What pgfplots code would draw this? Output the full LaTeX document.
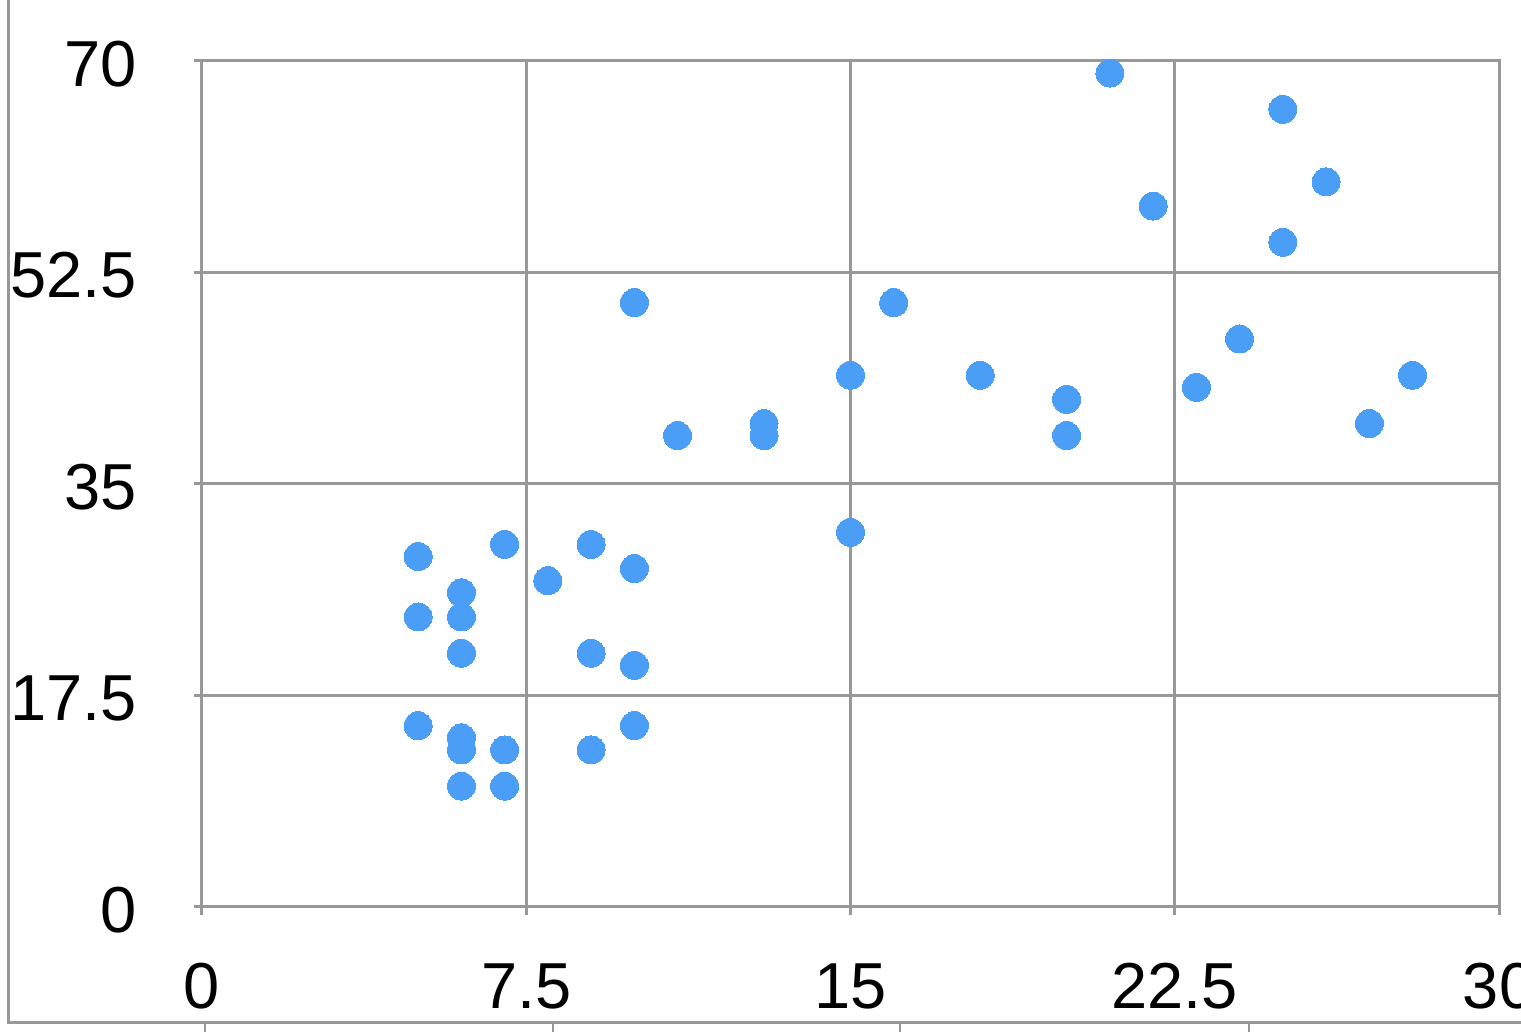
\documentclass[border=0pt]{standalone}
\usepackage{pgfplots}
\pgfplotsset{compat=1.18}
\usepackage{fontspec}
\setmainfont{Liberation Sans}
\definecolor{gridgray}{RGB}{152,152,152}
\definecolor{dotblue}{RGB}{74,158,245}
\begin{document}
\begin{tikzpicture}
\useasboundingbox (-101pt,-62.5pt) rectangle (659.5pt,453.5pt);
\fill[white] (-101pt,-62.5pt) rectangle (659.5pt,453.5pt);
\begin{axis}[
  at={(0,0)}, anchor=south west,
  scale only axis, width=648.5pt, height=423pt,
  xmin=0, xmax=30, ymin=0, ymax=70,
  xtick={0,7.5,15,22.5,30}, ytick={0,17.5,35,52.5,70},
  xticklabels={0,7.5,15,22.5,30}, yticklabels={0,17.5,35,52.5,70},
  grid=major,
  major grid style={gridgray, line width=1.5pt},
  axis line style={gridgray, line width=1.5pt},
  every tick/.style={gridgray, line width=1.5pt},
  tick align=outside, major tick length=4pt,
  xtick pos=bottom, ytick pos=left,
  tick label style={font=\fontsize{32.5}{39}\selectfont, inner sep=0pt},
  /pgf/number format/assume math mode=true,
  yticklabel style={anchor=east, xshift=-28.5pt, yshift=-1.5pt},
  xticklabel style={anchor=north, yshift=-24pt},
  clip=false,
]
\addplot[only marks, color=dotblue, mark=*, mark size=7pt, mark options={draw=dotblue, fill=dotblue, line width=0pt}] coordinates {
(5,29) (5,24) (5,15)
(6,26) (6,24) (6,21) (6,14) (6,13) (6,10)
(7,30) (7,13) (7,10)
(8,27)
(9,30) (9,21) (9,13)
(10,28) (10,20) (10,15) (10,50)
(11,39)
(13,40) (13,39)
(15,44) (15,31)
(16,50)
(18,44)
(20,42) (20,39)
(21,69)
(22,58)
(23,43)
(24,47)
(25,66) (25,55)
(26,60)
(27,40)
(28,44)
};
\end{axis}
\draw[gridgray, line width=1.5pt] (-96.5pt,453.5pt) -- (-96.5pt,-58pt) -- (659.5pt,-58pt);
\foreach \x in {1.5,175.5,349,523.5} {
  \draw[gridgray, line width=1pt] (\x pt,-58pt) -- (\x pt,-62.5pt);
}
\end{tikzpicture}
\end{document}
